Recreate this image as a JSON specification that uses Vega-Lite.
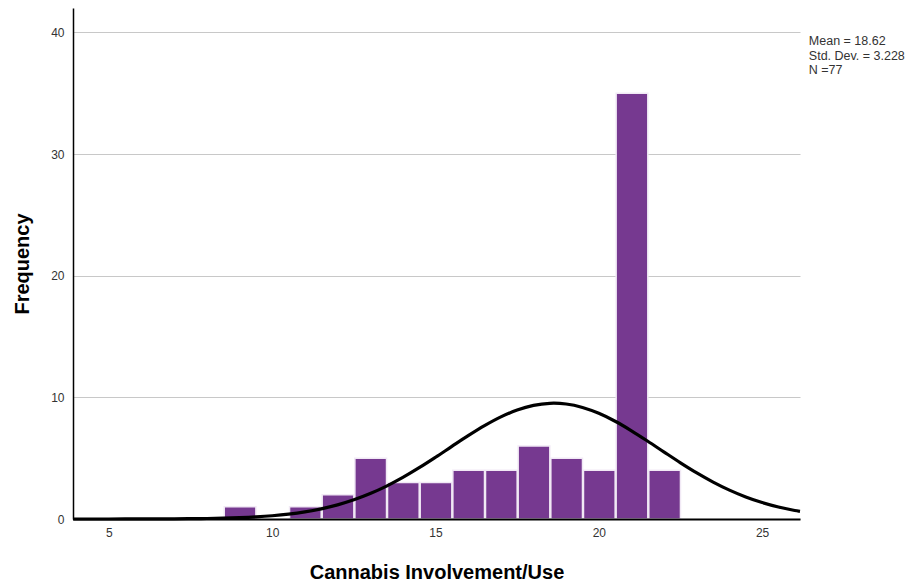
{
  "$schema": "https://vega.github.io/schema/vega-lite/v6.json",
  "width": 727,
  "height": 511,
  "autosize": {"type": "none"},
  "padding": {"left": 73, "top": 8, "right": 116, "bottom": 67},
  "background": "white",
  "config": {
    "view": {"stroke": null},
    "font": "Liberation Sans"
  },
  "datasets": {
    "bins": [
      {"start": 8.5, "end": 9.5, "count": 1},
      {"start": 10.5, "end": 11.5, "count": 1},
      {"start": 11.5, "end": 12.5, "count": 2},
      {"start": 12.5, "end": 13.5, "count": 5},
      {"start": 13.5, "end": 14.5, "count": 3},
      {"start": 14.5, "end": 15.5, "count": 3},
      {"start": 15.5, "end": 16.5, "count": 4},
      {"start": 16.5, "end": 17.5, "count": 4},
      {"start": 17.5, "end": 18.5, "count": 6},
      {"start": 18.5, "end": 19.5, "count": 5},
      {"start": 19.5, "end": 20.5, "count": 4},
      {"start": 20.5, "end": 21.5, "count": 35},
      {"start": 21.5, "end": 22.5, "count": 4}
    ],
    "curve": [
      {"x": 3.9, "freq": 0.0003},
      {"x": 4.5, "freq": 0.0007},
      {"x": 5, "freq": 0.0013},
      {"x": 5.5, "freq": 0.0025},
      {"x": 6, "freq": 0.0046},
      {"x": 6.5, "freq": 0.0083},
      {"x": 7, "freq": 0.0146},
      {"x": 7.5, "freq": 0.0252},
      {"x": 8, "freq": 0.0425},
      {"x": 8.5, "freq": 0.0699},
      {"x": 9, "freq": 0.1121},
      {"x": 9.5, "freq": 0.1759},
      {"x": 10, "freq": 0.2693},
      {"x": 10.5, "freq": 0.4021},
      {"x": 11, "freq": 0.5868},
      {"x": 11.5, "freq": 0.8355},
      {"x": 12, "freq": 1.1617},
      {"x": 12.5, "freq": 1.5775},
      {"x": 13, "freq": 2.0905},
      {"x": 13.5, "freq": 2.7051},
      {"x": 14, "freq": 3.4172},
      {"x": 14.5, "freq": 4.2145},
      {"x": 15, "freq": 5.0744},
      {"x": 15.5, "freq": 5.9652},
      {"x": 16, "freq": 6.8453},
      {"x": 16.5, "freq": 7.6697},
      {"x": 17, "freq": 8.3903},
      {"x": 17.5, "freq": 8.9601},
      {"x": 18, "freq": 9.3421},
      {"x": 18.5, "freq": 9.5094},
      {"x": 18.62, "freq": 9.516},
      {"x": 19, "freq": 9.4502},
      {"x": 19.5, "freq": 9.1689},
      {"x": 20, "freq": 8.685},
      {"x": 20.5, "freq": 8.0314},
      {"x": 21, "freq": 7.2514},
      {"x": 21.5, "freq": 6.3915},
      {"x": 22, "freq": 5.5003},
      {"x": 22.5, "freq": 4.6209},
      {"x": 23, "freq": 3.7901},
      {"x": 23.5, "freq": 3.0349},
      {"x": 24, "freq": 2.3728},
      {"x": 24.5, "freq": 1.8108},
      {"x": 25, "freq": 1.3496},
      {"x": 25.5, "freq": 0.9819},
      {"x": 26, "freq": 0.6972},
      {"x": 26.16, "freq": 0.6228}
    ]
  },
  "layer": [
    {
      "data": {"name": "bins"},
      "mark": {"type": "bar", "color": "#763990", "stroke": "#f1e9f5", "strokeWidth": 1.5},
      "encoding": {
        "x": {
          "field": "start",
          "type": "quantitative",
          "bin": {"binned": true, "step": 1},
          "scale": {"domain": [3.9, 26.16], "nice": false, "zero": false},
          "axis": {
            "values": [5, 10, 15, 20, 25],
            "grid": false,
            "ticks": false,
            "tickSize": 0,
            "domainColor": "#000000",
            "domainWidth": 2,
            "labelFontSize": 12,
            "labelColor": "#333333",
            "labelPadding": 8,
            "labelFlush": false,
            "title": "Cannabis Involvement/Use",
            "titleFontSize": 20,
            "titleFontWeight": "bold",
            "titleColor": "#000000",
            "titlePadding": 24,
            "zindex": 1
          }
        },
        "x2": {"field": "end"},
        "y": {
          "field": "count",
          "type": "quantitative",
          "scale": {"domain": [0, 42], "nice": false},
          "axis": {
            "values": [0, 10, 20, 30, 40],
            "grid": true,
            "gridColor": "#c8c8c8",
            "gridWidth": 1.2,
            "ticks": false,
            "tickSize": 0,
            "domainColor": "#000000",
            "domainWidth": 1.5,
            "labelFontSize": 12,
            "labelColor": "#333333",
            "labelPadding": 9,
            "labelFlush": false,
            "title": "Frequency",
            "titleFontSize": 20,
            "titleFontWeight": "bold",
            "titleColor": "#000000",
            "titlePadding": 18
          }
        }
      }
    },
    {
      "data": {"name": "curve"},
      "mark": {"type": "line", "color": "#000000", "strokeWidth": 3.2, "interpolate": "monotone"},
      "encoding": {
        "x": {"field": "x", "type": "quantitative"},
        "y": {"field": "freq", "type": "quantitative"}
      }
    },
    {
      "data": {"values": [{"stats": "summary"}]},
      "mark": {
        "type": "text",
        "text": ["Mean = 18.62", "Std. Dev. = 3.228", "N =77"],
        "align": "left",
        "baseline": "top",
        "fontSize": 12.5,
        "lineHeight": 14.5,
        "color": "#333333"
      },
      "encoding": {
        "x": {"datum": 26.43, "type": "quantitative"},
        "y": {"datum": 39.75, "type": "quantitative"}
      }
    }
  ]
}
